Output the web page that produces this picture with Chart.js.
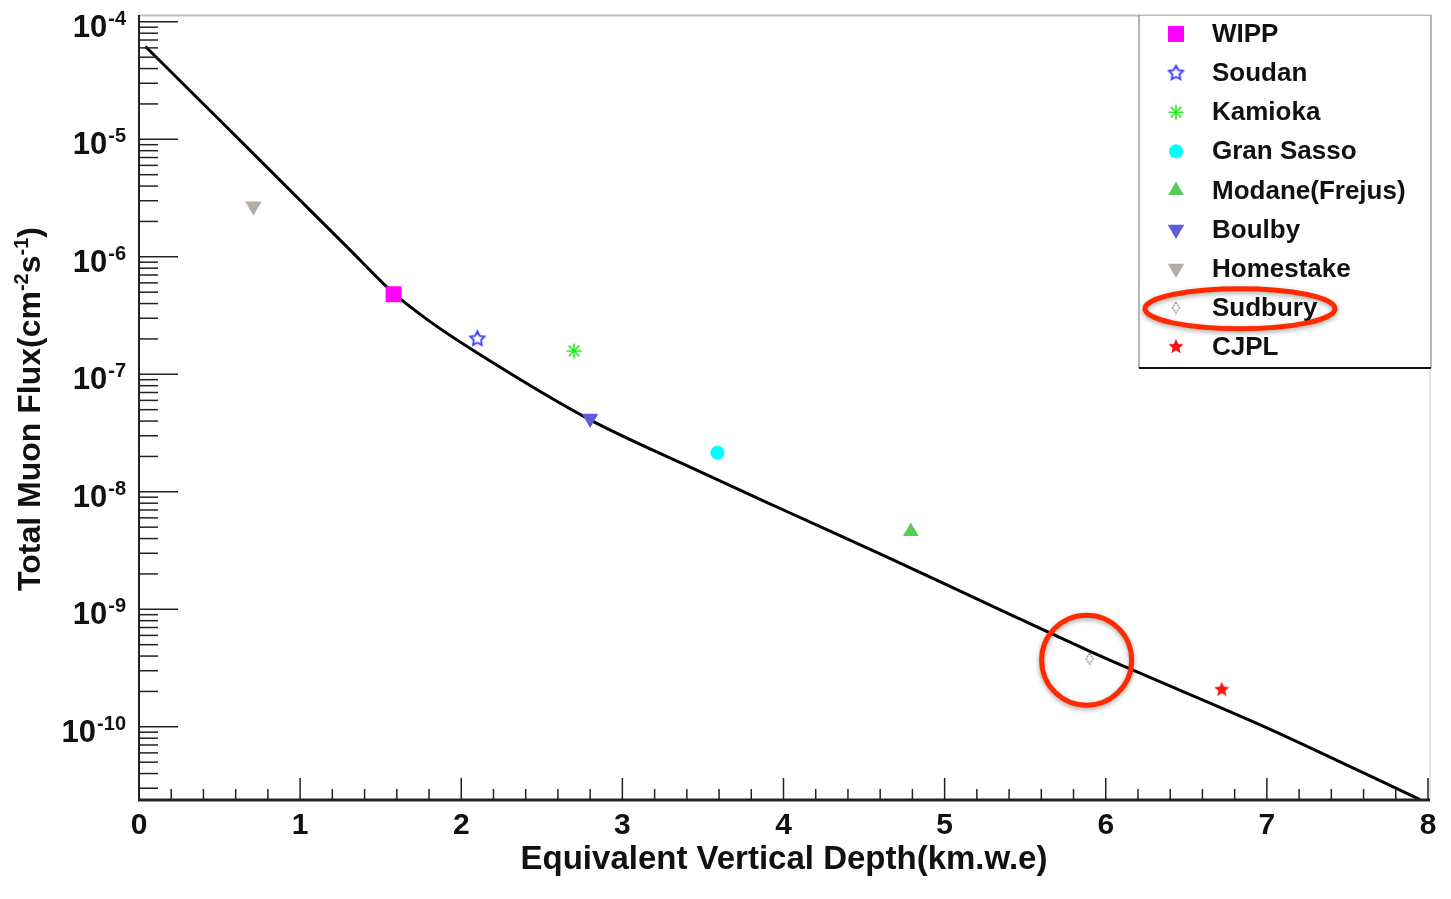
<!DOCTYPE html>
<html>
<head>
<meta charset="utf-8">
<title>Total muon flux vs depth</title>
<script src="https://cdn.jsdelivr.net/npm/chart.js@4.4.0/dist/chart.umd.min.js"></script>
<style>
  body { margin: 0; background: #fff; }
  canvas { display: block; }
</style>
</head>
<body>
<canvas id="myChart" width="1451" height="899"></canvas>
<script>
// fitted curve (depth in km.w.e, flux in cm^-2 s^-1)
const curveDepth = [0.04, 0.5, 1.0, 1.3, 1.58, 1.8, 2.1, 2.8, 3.36, 4.0, 4.64, 5.345, 5.885, 6.13, 7.0, 7.95];
const curveFlux = [6.17e-5, 1.46e-5, 3.03e-6, 1.18e-6, 4.9e-7, 2.85e-7, 1.52e-7, 4.1e-8, 1.77e-8, 7.0e-9, 2.8e-9, 9.9e-10, 4.5e-10, 3.2e-10, 9.8e-11, 2.4e-11];

// underground labs
const labNames = ['WIPP', 'Soudan', 'Kamioka', 'Gran Sasso', 'Modane(Frejus)', 'Boulby', 'Homestake', 'Sudbury', 'CJPL'];
const labDepth = [1.58, 2.10, 2.70, 3.59, 4.79, 2.80, 0.71, 5.90, 6.72];
const labFlux = [4.8e-7, 2.0e-7, 1.58e-7, 2.15e-8, 4.6e-9, 4.2e-8, 2.7e-6, 3.8e-10, 2.07e-10];

// axes
const xTickLabels = [0, 1, 2, 3, 4, 5, 6, 7, 8];
const yTickExponents = [-4, -5, -6, -7, -8, -9, -10];

const FONT = "'Liberation Sans', Arial, Helvetica, sans-serif";

// small canvases for the marker shapes chart.js doesn't have
function makeStar(outer, inner, color, filled) {
    const c = document.createElement('canvas');
    const s = Math.ceil(outer * 2 + 4);
    c.width = s; c.height = s;
    const g = c.getContext('2d');
    g.beginPath();
    for (let i = 0; i < 10; i++) {
        const r = i % 2 === 0 ? outer : inner;
        const a = -Math.PI / 2 + i * Math.PI / 5;
        g.lineTo(s / 2 + r * Math.cos(a), s / 2 + r * Math.sin(a));
    }
    g.closePath();
    if (filled) {
        g.fillStyle = color;
        g.fill();
    } else {
        g.strokeStyle = color;
        g.lineWidth = 1.8;
        g.stroke();
    }
    return c;
}

function makeDiamond(w, h, color) {
    const c = document.createElement('canvas');
    c.width = w + 4; c.height = h + 4;
    const g = c.getContext('2d');
    g.beginPath();
    g.moveTo(c.width / 2, 2);
    g.lineTo(c.width - 2, c.height / 2);
    g.lineTo(c.width / 2, c.height - 2);
    g.lineTo(2, c.height / 2);
    g.closePath();
    g.strokeStyle = color;
    g.lineWidth = 1.2;
    g.setLineDash([2, 1]);
    g.stroke();
    return c;
}

const markerStyles = [
    { pointStyle: 'rect', radius: 11.3, rotation: 0, bg: '#ff00ff', border: '#ff00ff', width: 0 },
    { pointStyle: makeStar(7.5, 3.8, '#3a3aff', false), radius: 8, rotation: 0, bg: '#3a3aff', border: '#3a3aff', width: 0 },
    { pointStyle: 'star', radius: 7.5, rotation: 0, bg: '#22ee22', border: '#22ee22', width: 1.6 },
    { pointStyle: 'circle', radius: 7, rotation: 0, bg: '#00ffff', border: '#00ffff', width: 0 },
    { pointStyle: 'triangle', radius: 9, rotation: 0, bg: '#55cc55', border: '#55cc55', width: 0 },
    { pointStyle: 'triangle', radius: 9.5, rotation: 180, bg: '#5b5bdb', border: '#5b5bdb', width: 0 },
    { pointStyle: 'triangle', radius: 9.5, rotation: 180, bg: '#b5aca2', border: '#b5aca2', width: 0 },
    { pointStyle: makeDiamond(7, 11, '#777'), radius: 7, rotation: 0, bg: '#fff', border: '#777', width: 0 },
    { pointStyle: makeStar(8, 3.6, '#ff1010', true), radius: 8, rotation: 0, bg: '#ff1010', border: '#ff1010', width: 0 }
];

const datasets = labNames.map((name, i) => ({
    type: 'scatter',
    label: name,
    data: [{ x: labDepth[i], y: labFlux[i] }],
    pointStyle: markerStyles[i].pointStyle,
    pointRadius: markerStyles[i].radius,
    pointRotation: markerStyles[i].rotation,
    pointBackgroundColor: markerStyles[i].bg,
    pointBorderColor: markerStyles[i].border,
    pointBorderWidth: markerStyles[i].width,
    order: 0
}));

datasets.push({
    type: 'line',
    label: 'fit',
    data: curveDepth.map((d, i) => ({ x: d, y: curveFlux[i] })),
    borderColor: '#000',
    borderWidth: 3,
    pointRadius: 0,
    cubicInterpolationMode: 'monotone',
    fill: false,
    order: 10
});

// draw y label like 10^-4
function drawPow(ctx, exp, right, y) {
    ctx.textAlign = 'left';
    ctx.textBaseline = 'alphabetic';
    ctx.font = 'bold 20px ' + FONT;
    const sup = String(exp);
    const supW = ctx.measureText(sup).width;
    ctx.font = 'bold 31px ' + FONT;
    const baseW = ctx.measureText('10').width;
    const x0 = right - supW - baseW - 1;
    ctx.fillText('10', x0, y + 15);
    ctx.font = 'bold 20px ' + FONT;
    ctx.fillText(sup, x0 + baseW + 1, y + 3);
}

// rich text pieces: [text, isSuperscript]
function drawRich(ctx, pieces, size, supSize) {
    let total = 0;
    pieces.forEach(p => {
        ctx.font = 'bold ' + (p[1] ? supSize : size) + 'px ' + FONT;
        total += ctx.measureText(p[0]).width;
    });
    let x = -total / 2;
    ctx.textAlign = 'left';
    ctx.textBaseline = 'alphabetic';
    pieces.forEach(p => {
        ctx.font = 'bold ' + (p[1] ? supSize : size) + 'px ' + FONT;
        ctx.fillText(p[0], x, p[1] ? -12 : 0);
        x += ctx.measureText(p[0]).width;
    });
}

const framePlugin = {
    id: 'rootFrame',
    afterDraw(chart) {
        const ctx = chart.ctx;
        const xs = chart.scales.x;
        const ys = chart.scales.y;
        const a = chart.chartArea;
        ctx.save();

        // frame
        ctx.strokeStyle = '#bdbdbd';
        ctx.lineWidth = 2;
        ctx.beginPath();
        ctx.moveTo(a.left, a.top + 0.5);
        ctx.lineTo(a.right + 3, a.top + 0.5);
        ctx.stroke();
        ctx.strokeStyle = '#dddddd';
        ctx.lineWidth = 1.5;
        ctx.beginPath();
        ctx.moveTo(a.right + 2, a.top);
        ctx.lineTo(a.right + 2, a.bottom);
        ctx.stroke();

        ctx.strokeStyle = '#222';
        ctx.lineWidth = 2;
        ctx.beginPath();
        ctx.moveTo(a.left, a.top);
        ctx.lineTo(a.left, a.bottom);
        ctx.stroke();
        ctx.lineWidth = 3;
        ctx.beginPath();
        ctx.moveTo(a.left - 1, a.bottom);
        ctx.lineTo(a.right + 2, a.bottom);
        ctx.stroke();

        // x ticks, inside the frame
        ctx.lineWidth = 1.5;
        ctx.strokeStyle = '#222';
        for (let i = 0; i <= 40; i++) {
            const px = xs.getPixelForValue(i / 5);
            const len = i % 5 === 0 ? 22 : 11;
            ctx.beginPath();
            ctx.moveTo(px, a.bottom);
            ctx.lineTo(px, a.bottom - len);
            ctx.stroke();
        }
        // y ticks, log
        for (let e = -11; e <= -4; e++) {
            for (let m = 1; m <= 9; m++) {
                const v = m * Math.pow(10, e);
                if (v < ys.min || v > ys.max) continue;
                const py = ys.getPixelForValue(v);
                ctx.beginPath();
                ctx.moveTo(a.left, py);
                ctx.lineTo(a.left + (m === 1 ? 39 : 19), py);
                ctx.stroke();
            }
        }

        // tick labels
        ctx.fillStyle = '#111';
        ctx.font = 'bold 30px ' + FONT;
        ctx.textAlign = 'center';
        ctx.textBaseline = 'alphabetic';
        xTickLabels.forEach(v => {
            ctx.fillText(String(v), xs.getPixelForValue(v), 834);
        });
        yTickExponents.forEach(e => {
            drawPow(ctx, e, 126, ys.getPixelForValue(Math.pow(10, e)));
        });

        // axis titles
        ctx.textAlign = 'center';
        ctx.font = 'bold 33px ' + FONT;
        ctx.fillText('Equivalent Vertical Depth(km.w.e)', 784, 869);

        ctx.save();
        ctx.translate(40, 409);
        ctx.rotate(-Math.PI / 2);
        drawRich(ctx, [['Total Muon Flux(cm', false], ['-2', true], ['s', false], ['-1', true], [')', false]], 32, 20);
        ctx.restore();

        // legend box
        const lx = 1139, ly = a.top, lw = 292, lh = 353;
        ctx.fillStyle = '#fff';
        ctx.fillRect(lx, ly + 1, lw, lh - 1);
        ctx.strokeStyle = '#888';
        ctx.lineWidth = 1.2;
        ctx.beginPath();
        ctx.moveTo(lx, ly);
        ctx.lineTo(lx, ly + lh);
        ctx.moveTo(lx + lw, ly);
        ctx.lineTo(lx + lw, ly + lh);
        ctx.stroke();
        ctx.strokeStyle = '#111';
        ctx.lineWidth = 2;
        ctx.beginPath();
        ctx.moveTo(lx, ly + lh);
        ctx.lineTo(lx + lw, ly + lh);
        ctx.stroke();

        labNames.forEach((name, i) => {
            const ry = 34 + i * 39.1;
            const st = markerStyles[i];
            ctx.fillStyle = st.bg;
            ctx.strokeStyle = st.border;
            ctx.lineWidth = st.width;
            Chart.helpers.drawPoint(ctx, {
                pointStyle: st.pointStyle,
                rotation: st.rotation,
                radius: st.radius,
                borderWidth: st.width
            }, 1176, ry);
            ctx.fillStyle = '#111';
            ctx.font = 'bold 26px ' + FONT;
            ctx.textAlign = 'left';
            ctx.textBaseline = 'middle';
            ctx.fillText(name, 1212, ry + 1);
        });

        // red highlight marks around Sudbury
        ctx.strokeStyle = '#ff2a00';
        ctx.lineWidth = 5;
        ctx.shadowColor = 'rgba(0,0,0,0.35)';
        ctx.shadowBlur = 5;
        ctx.shadowOffsetY = 2;
        ctx.beginPath();
        ctx.ellipse(1240, 34 + 7 * 39.1 + 1, 95, 20, 0, 0, Math.PI * 2);
        ctx.stroke();
        const sx = xs.getPixelForValue(labDepth[7]);
        const sy = ys.getPixelForValue(labFlux[7]);
        ctx.beginPath();
        ctx.arc(sx - 3, sy + 1.5, 45, 0, Math.PI * 2);
        ctx.stroke();

        ctx.restore();
    }
};

const ctx = document.getElementById('myChart').getContext('2d');
const myChart = new Chart(ctx, {
    type: 'scatter',
    data: { datasets: datasets },
    options: {
        responsive: false,
        animation: false,
        devicePixelRatio: 1,
        layout: { padding: { left: 139, top: 15, right: 23, bottom: 99 } },
        plugins: {
            legend: { display: false },
            tooltip: { enabled: false }
        },
        scales: {
            x: { type: 'linear', min: 0, max: 8, display: false },
            y: {
                type: 'logarithmic',
                min: Math.pow(10, -10.623),
                max: Math.pow(10, -3.942),
                bounds: 'data',
                display: false
            }
        }
    },
    plugins: [framePlugin]
});
</script>
</body>
</html>
